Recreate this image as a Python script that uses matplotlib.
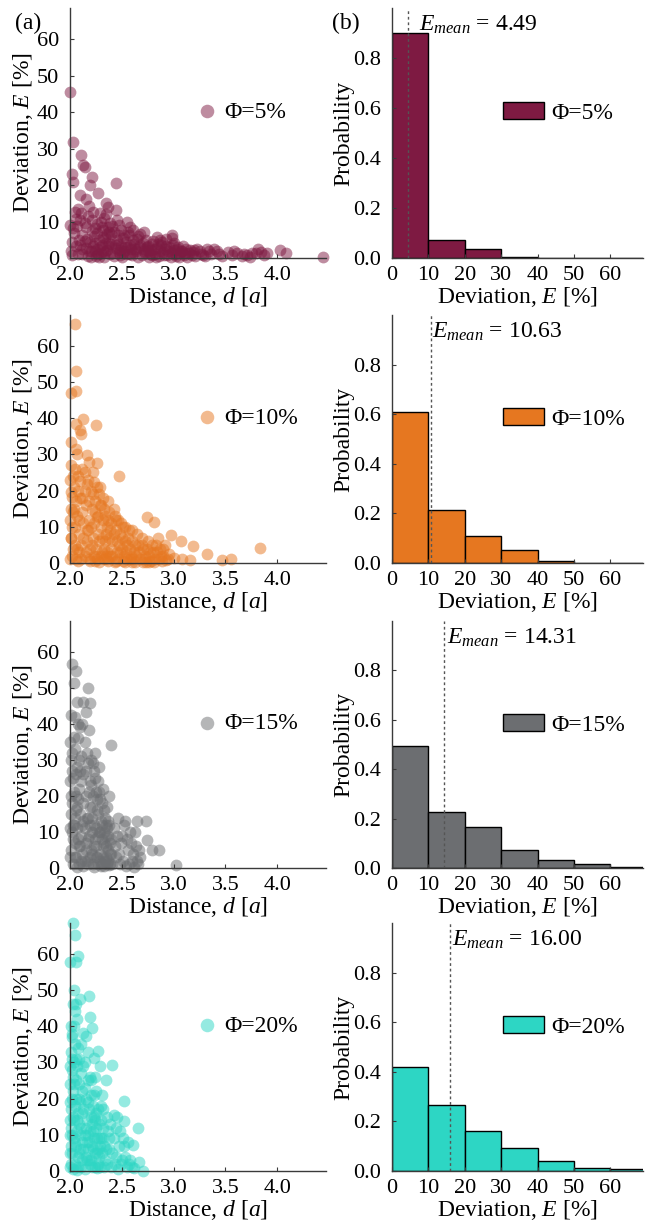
import matplotlib
matplotlib.use("Agg")
import matplotlib.pyplot as plt
import matplotlib.transforms as mtransforms

plt.rcParams["font.family"] = ["Liberation Serif", "DejaVu Serif"]
plt.rcParams["mathtext.fontset"] = "custom"
plt.rcParams["mathtext.rm"] = "Liberation Serif"
plt.rcParams["mathtext.it"] = "Liberation Serif:italic"
plt.rcParams["font.size"] = 17

# ---- data ----
labels = ["Φ=5%", "Φ=10%", "Φ=15%", "Φ=20%"]
colors = ["#7E1A42", "#E67720", "#6C6E71", "#2DD6C4"]
e_mean = [4.49, 10.63, 14.31, 16.00]

bin_left = [0, 10, 20, 30, 40, 50, 60]
prob_05 = [0.90, 0.073, 0.037, 0.003, 0.002, 0.0, 0.0]
prob_10 = [0.608, 0.212, 0.108, 0.054, 0.007, 0.002, 0.002]
prob_15 = [0.494, 0.225, 0.164, 0.071, 0.031, 0.015, 0.003]
prob_20 = [0.42, 0.267, 0.162, 0.092, 0.039, 0.012, 0.007]

# (distance d, deviation E) pairs, estimated by eye
pts_05 = [
    (2.00, 45.5), (2.03, 31.8), (2.02, 23.1), (2.03, 20.9), (2.11, 28.1), (2.13, 25.4),
    (2.14, 24.8), (2.21, 22.2), (2.19, 20.0), (2.44, 20.6), (2.10, 17.2), (2.15, 16.3),
    (2.27, 17.7), (2.35, 15.0), (2.37, 14.0), (2.29, 12.2), (2.05, 12.7), (2.11, 12.2),
    (2.10, 10.4), (2.00, 9.0), (2.03, 8.1), (2.15, 8.6), (2.21, 10.4), (2.44, 13.1),
    (2.45, 10.4), (2.55, 9.9), (2.37, 8.6), (2.32, 7.7), (2.61, 7.7), (2.68, 6.7),
    (2.71, 7.2), (2.84, 5.8), (2.98, 6.3), (2.98, 5.4), (2.33, 11.0), (2.26, 9.2),
    (2.40, 6.5), (2.49, 7.8), (2.06, 10.8), (2.17, 11.5),
    (2.01, 2.0), (2.02, 0.8), (2.06, 3.2), (2.08, 1.2), (2.10, 3.5), (2.12, 1.2),
    (2.15, 2.8), (2.17, 0.5), (2.19, 4.5), (2.20, 1.8), (2.22, 3.2), (2.23, 6.0),
    (2.25, 0.6), (2.26, 2.4), (2.28, 4.8), (2.30, 1.4), (2.31, 3.6), (2.33, 0.3),
    (2.34, 5.5), (2.36, 2.2), (2.38, 7.0), (2.39, 1.0), (2.40, 3.8), (2.42, 0.5),
    (2.44, 2.7), (2.45, 5.0), (2.47, 1.6), (2.49, 3.3), (2.50, 0.4), (2.52, 2.0),
    (2.54, 4.4), (2.55, 1.1), (2.57, 6.2), (2.59, 2.6), (2.60, 0.7), (2.62, 3.9),
    (2.64, 1.8), (2.65, 5.3), (2.67, 2.9), (2.69, 0.9), (2.70, 4.1), (2.72, 1.5),
    (2.74, 3.0), (2.76, 0.4), (2.78, 2.3), (2.80, 4.6), (2.82, 1.2), (2.84, 2.8),
    (2.86, 0.6), (2.88, 3.5), (2.90, 1.7), (2.92, 2.4), (2.94, 0.8), (2.96, 3.1),
    (2.98, 1.4), (3.00, 2.2), (3.02, 0.5), (3.04, 3.0), (3.06, 1.3), (3.08, 2.0),
    (3.10, 0.7), (3.12, 2.6), (3.15, 1.5), (3.18, 0.9), (3.20, 2.1), (3.23, 2.6),
    (3.26, 1.2), (3.30, 0.6), (3.34, 1.8), (3.39, 2.6), (3.44, 1.1), (3.52, 1.7),
    (3.56, 0.7), (3.61, 1.3), (3.66, 0.5), (3.71, 0.8), (3.76, 1.4), (3.81, 2.6),
    (3.84, 1.7), (3.90, 1.3), (4.03, 2.2), (4.08, 1.3), (4.44, 0.4),
    (2.27, 1.0), (2.35, 4.0), (2.48, 0.8), (2.58, 3.5), (2.66, 0.3), (2.75, 2.0),
    (2.16, 5.2), (2.18, 2.0), (2.21, 7.5), (2.24, 4.2), (2.26, 6.8), (2.29, 2.9),
    (2.31, 8.5), (2.32, 5.8), (2.34, 1.6), (2.36, 6.6), (2.38, 4.2), (2.41, 8.8),
    (2.43, 3.6), (2.46, 6.3), (2.48, 2.2), (2.51, 5.4), (2.53, 3.0), (2.56, 7.0),
    (2.58, 1.2), (2.61, 4.8), (2.63, 2.4), (2.66, 6.0), (2.68, 3.6), (2.71, 1.9),
    (2.73, 5.0), (2.75, 3.2), (2.77, 1.0), (2.79, 3.8), (2.81, 2.4), (2.83, 0.3),
    (2.85, 3.7), (2.87, 2.0), (2.89, 4.4), (2.91, 0.9), (2.93, 3.3), (2.95, 1.9),
    (2.97, 0.4), (2.99, 3.6), (3.01, 1.1), (3.03, 2.5), (3.05, 0.3), (3.07, 1.8),
    (3.09, 3.4), (3.11, 1.3), (3.13, 0.4), (3.16, 2.3), (3.19, 1.6), (3.21, 0.5),
    (3.25, 1.9), (3.28, 0.8), (3.32, 2.4), (3.36, 1.2), (3.42, 1.8), (3.47, 0.6),
    (3.58, 1.9), (3.68, 1.2), (3.74, 0.4), (3.79, 1.3), (3.87, 0.8), (2.22, 12.5),
    (2.24, 8.2), (2.30, 9.8), (2.35, 12.0), (2.39, 9.6), (2.42, 7.0), (2.47, 9.0),
    (2.52, 6.4), (2.58, 8.6), (2.02, 4.5), (2.04, 6.8), (2.07, 8.8), (2.09, 5.0),
    (2.12, 6.2), (2.14, 9.7), (2.18, 14.3), (2.08, 13.5), (2.12, 2.4), (2.14, 4.6),
    (2.20, 0.3), (2.24, 2.0), (2.28, 0.2), (2.32, 2.0), (2.37, 3.2), (2.41, 1.4),
    (2.46, 3.8), (2.51, 1.5), (2.56, 2.9), (2.61, 1.7), (2.71, 2.6), (2.79, 0.7),
    (2.87, 4.9), (2.93, 5.2), (3.00, 4.0),
]

pts_10 = [
    (2.05, 66.1), (2.06, 52.9), (2.06, 47.6), (2.01, 46.9), (2.13, 39.8), (2.10, 36.6),
    (2.11, 35.7), (2.25, 38.0), (2.01, 33.4), (2.06, 31.6), (2.16, 29.8), (2.01, 27.0),
    (2.05, 26.1), (2.26, 27.7), (2.47, 24.0), (2.10, 22.7), (2.16, 21.8), (2.23, 22.3),
    (2.29, 21.0), (2.01, 19.7), (2.02, 18.3), (2.37, 17.0), (2.26, 12.8), (2.44, 11.9),
    (2.53, 10.0), (2.74, 12.8), (2.81, 11.2), (2.01, 6.9), (2.97, 7.8), (3.07, 6.2),
    (3.19, 4.8), (3.32, 2.6), (3.47, 0.9), (3.55, 1.1), (3.83, 4.1), (3.16, 0.9),
    (3.08, 1.1),
    (2.04, 15), (2.08, 20), (2.12, 14), (2.14, 25), (2.18, 17), (2.20, 10), (2.22, 19),
    (2.24, 14), (2.27, 8), (2.30, 16), (2.32, 12), (2.34, 6), (2.36, 10), (2.38, 14),
    (2.40, 4), (2.42, 8), (2.45, 6), (2.48, 3), (2.50, 7), (2.52, 2), (2.55, 5),
    (2.58, 1), (2.60, 6), (2.62, 3), (2.65, 8), (2.68, 1), (2.70, 4), (2.72, 2),
    (2.75, 6), (2.78, 0.5), (2.80, 3), (2.83, 5), (2.86, 1), (2.88, 2), (2.90, 4),
    (2.93, 0.8), (2.96, 2.5), (3.00, 1.5),
    (2.02, 2), (2.05, 10), (2.07, 4), (2.09, 12), (2.11, 1), (2.13, 7), (2.15, 3),
    (2.17, 9), (2.19, 0.5), (2.21, 5), (2.23, 2), (2.25, 4), (2.28, 0.4), (2.31, 3),
    (2.33, 1), (2.35, 2), (2.37, 0.5), (2.39, 9), (2.41, 2), (2.43, 0.3), (2.46, 1),
    (2.49, 11), (2.51, 0.6), (2.54, 3), (2.57, 9), (2.59, 2), (2.63, 0.4), (2.66, 5),
    (2.69, 7), (2.73, 0.3), (2.77, 3), (2.82, 1), (2.85, 7), (2.89, 0.5), (2.92, 5),
    (2.95, 1),
    (2.01, 7), (2.03, 24), (2.07, 30), (2.12, 18), (2.18, 28), (2.22, 25), (2.28, 19),
    (2.33, 15), (2.43, 13), (2.06, 38.5), (2.00, 1), (2.08, 0.5), (2.16, 6), (2.26, 1),
    (2.02, 10), (2.03, 14), (2.04, 21), (2.05, 5), (2.06, 17), (2.07, 13), (2.08, 24),
    (2.09, 8), (2.10, 18), (2.11, 5), (2.12, 26), (2.13, 11), (2.14, 20), (2.15, 16),
    (2.16, 9), (2.17, 23), (2.18, 12), (2.19, 4), (2.20, 20), (2.21, 15), (2.22, 7),
    (2.23, 11), (2.24, 17), (2.25, 2), (2.26, 21), (2.27, 13), (2.28, 6), (2.29, 16),
    (2.30, 10), (2.31, 7), (2.32, 18), (2.33, 4), (2.34, 13), (2.35, 8), (2.36, 3),
    (2.37, 12), (2.38, 7), (2.39, 2), (2.40, 11), (2.41, 6), (2.42, 15), (2.44, 9),
    (2.45, 3), (2.46, 12), (2.47, 5), (2.48, 8), (2.50, 4), (2.51, 10), (2.53, 6),
    (2.54, 1), (2.56, 7), (2.58, 4), (2.60, 9), (2.61, 1), (2.63, 5), (2.64, 2),
    (2.67, 3), (2.69, 5), (2.71, 1), (2.74, 4), (2.76, 2), (2.79, 5), (2.81, 0.4),
    (2.84, 3), (2.87, 4), (2.90, 2), (2.03, 4), (2.06, 1), (2.09, 3), (2.14, 2),
    (2.18, 1), (2.24, 0.5), (2.30, 2), (2.36, 1), (2.44, 0.5), (2.53, 0.3), (2.60, 0.3),
    (2.70, 0.4), (2.76, 0.3), (2.00, 12), (2.00, 23), (2.01, 15),
]

pts_15 = [
    (2.02, 56.5), (2.06, 54.6), (2.04, 51.2), (2.17, 49.8), (2.07, 46.0), (2.13, 46.0),
    (2.19, 45.8), (2.15, 43.3), (2.01, 42.3), (2.10, 39.0), (2.18, 38.2), (2.40, 34.2),
    (2.04, 36.3), (2.65, 13.0), (2.73, 13.0), (2.74, 7.9), (2.79, 5.1), (2.86, 5.1),
    (3.02, 0.7),
    (2.01, 30), (2.03, 25), (2.05, 33), (2.07, 28), (2.09, 22), (2.11, 31), (2.13, 26),
    (2.15, 20), (2.17, 29), (2.19, 24), (2.21, 17), (2.23, 27), (2.25, 21), (2.27, 15),
    (2.29, 19), (2.31, 12), (2.33, 16), (2.35, 9), (2.37, 13), (2.39, 7),
    (2.02, 18), (2.04, 12), (2.06, 20), (2.08, 8), (2.10, 15), (2.12, 4), (2.14, 11),
    (2.16, 2), (2.18, 9), (2.20, 5), (2.22, 1), (2.24, 8), (2.26, 3), (2.28, 10),
    (2.30, 0.5), (2.32, 6), (2.34, 2), (2.36, 11), (2.38, 0.8), (2.40, 4),
    (2.01, 5), (2.03, 1), (2.05, 3), (2.07, 0.4), (2.09, 6), (2.11, 2), (2.13, 0.6),
    (2.15, 7), (2.17, 14), (2.19, 3), (2.21, 10), (2.23, 0.3), (2.25, 6), (2.27, 1),
    (2.29, 4), (2.31, 8), (2.33, 0.5), (2.35, 3), (2.37, 5), (2.39, 1),
    (2.42, 11), (2.44, 3), (2.46, 14), (2.48, 1), (2.50, 9), (2.52, 12), (2.54, 0.5),
    (2.56, 5), (2.58, 10), (2.60, 2), (2.62, 0.4), (2.64, 6), (2.66, 1), (2.68, 3),
    (2.02, 10), (2.06, 16), (2.08, 36), (2.12, 40), (2.14, 35), (2.16, 32), (2.20, 23),
    (2.24, 32), (2.28, 28), (2.32, 22), (2.36, 17), (2.38, 20), (2.00, 24), (2.00, 3),
    (2.01, 15), (2.02, 27), (2.03, 8), (2.04, 21), (2.05, 14), (2.06, 3), (2.06, 26),
    (2.07, 11), (2.08, 19), (2.09, 30), (2.10, 6), (2.11, 24), (2.12, 12), (2.13, 18),
    (2.14, 2), (2.15, 27), (2.16, 14), (2.17, 8), (2.18, 21), (2.19, 12), (2.20, 30),
    (2.21, 4), (2.22, 20), (2.23, 12), (2.24, 25), (2.25, 3), (2.26, 16), (2.27, 9),
    (2.28, 21), (2.29, 2), (2.30, 13), (2.31, 18), (2.32, 3), (2.33, 10), (2.34, 14),
    (2.35, 6), (2.36, 1), (2.37, 9), (2.38, 12), (2.39, 4), (2.40, 8), (2.41, 1),
    (2.43, 6), (2.45, 9), (2.47, 4), (2.49, 7), (2.51, 2), (2.53, 13), (2.55, 8),
    (2.57, 1), (2.59, 7), (2.61, 4), (2.63, 10), (2.65, 2), (2.67, 5), (2.01, 20),
    (2.03, 12), (2.05, 7), (2.07, 17), (2.09, 1), (2.11, 9), (2.13, 13), (2.15, 5),
    (2.17, 1), (2.19, 17), (2.21, 14), (2.23, 6), (2.25, 11), (2.27, 24), (2.29, 10),
    (2.31, 1), (2.33, 7), (2.35, 12), (2.37, 2), (2.00, 11), (2.00, 35), (2.02, 32),
    (2.10, 27), (2.22, 29), (2.26, 19), (2.05, 42), (2.08, 40),
]

pts_20 = [
    (2.03, 68.5), (2.05, 65.1), (2.08, 59.3), (2.06, 57.7), (2.00, 57.7), (2.18, 48.4),
    (2.10, 47.5), (2.03, 46.1), (2.05, 44.3), (2.19, 42.4), (2.21, 39.6), (2.15, 37.3),
    (2.02, 37.8), (2.27, 33.1), (2.23, 31.3), (2.41, 29.4), (2.35, 25.0), (2.31, 21.1),
    (2.52, 19.4), (2.42, 15.6), (2.52, 13.7), (2.66, 11.9), (2.61, 7.2), (2.67, 2.4),
    (2.70, 0.0),
    (2.01, 33), (2.02, 28), (2.03, 22), (2.04, 30), (2.05, 18), (2.06, 25), (2.07, 14),
    (2.08, 34), (2.09, 20), (2.10, 10), (2.11, 27), (2.12, 16), (2.13, 6), (2.14, 23),
    (2.15, 12), (2.16, 3), (2.17, 19), (2.18, 8), (2.19, 26), (2.20, 15), (2.21, 1),
    (2.22, 11), (2.23, 21), (2.24, 5), (2.25, 16), (2.26, 9), (2.27, 2), (2.28, 13),
    (2.29, 7), (2.30, 18),
    (2.01, 12), (2.02, 5), (2.03, 0.5), (2.04, 9), (2.05, 2), (2.06, 7), (2.07, 0.3),
    (2.08, 4), (2.09, 13), (2.11, 1), (2.12, 8), (2.14, 0.5), (2.15, 4), (2.17, 10),
    (2.19, 2), (2.22, 6), (2.24, 14), (2.26, 0.8), (2.28, 4), (2.30, 9), (2.32, 12),
    (2.34, 3), (2.36, 15), (2.38, 6), (2.40, 1), (2.42, 9), (2.44, 4), (2.46, 0.5),
    (2.48, 11), (2.50, 3), (2.52, 7), (2.55, 1), (2.58, 3), (2.62, 0.8), (2.33, 7),
    (2.37, 11), (2.45, 15), (2.02, 20), (2.04, 40), (2.07, 42), (2.09, 31), (2.13, 29),
    (2.17, 33), (2.20, 25), (2.25, 22), (2.29, 29), (2.32, 17), (2.00, 24), (2.00, 14),
    (2.00, 5), (2.01, 2),
    (2.01, 17), (2.02, 10), (2.02, 31), (2.03, 15), (2.04, 24), (2.05, 8), (2.05, 35),
    (2.06, 20), (2.07, 11), (2.07, 29), (2.08, 16), (2.09, 5), (2.09, 24), (2.10, 19),
    (2.11, 12), (2.11, 35), (2.12, 3), (2.12, 22), (2.13, 17), (2.14, 10), (2.14, 30),
    (2.15, 20), (2.16, 14), (2.17, 6), (2.17, 25), (2.18, 17), (2.19, 11), (2.20, 3),
    (2.20, 21), (2.21, 13), (2.22, 18), (2.23, 9), (2.24, 1), (2.24, 26), (2.25, 12),
    (2.26, 5), (2.27, 17), (2.28, 9), (2.29, 1), (2.30, 14), (2.31, 5), (2.32, 9),
    (2.33, 1), (2.35, 6), (2.36, 2), (2.38, 9), (2.39, 13), (2.41, 5), (2.43, 2),
    (2.44, 12), (2.47, 7), (2.49, 2), (2.51, 9), (2.53, 4), (2.56, 8), (2.57, 2),
    (2.60, 1), (2.01, 7), (2.02, 37), (2.03, 26), (2.04, 14), (2.06, 31), (2.08, 1),
    (2.10, 6), (2.13, 38), (2.16, 8), (2.18, 3), (2.21, 7), (2.23, 15), (2.27, 6),
    (2.00, 10), (2.00, 19), (2.00, 29), (2.00, 1), (2.01, 40), (2.04, 50), (2.06, 46),
]

scatter_sets = [pts_05, pts_10, pts_15, pts_20]
prob_sets = [prob_05, prob_10, prob_15, prob_20]

# ---- layout (pixels of the reference) ----
W, H = 649, 1223
row_px = [(8, 258), (315, 563), (621, 868), (923, 1171)]
left_px = (70, 326)
right_px = (392, 643)
text_x = [7.4, 11.0, 15.0, 16.5]

spine_col = "#3a3a3a"


def style(ax):
    for s in ["top", "right"]:
        ax.spines[s].set_visible(False)
    for s in ["left", "bottom"]:
        ax.spines[s].set_color(spine_col)
        ax.spines[s].set_linewidth(1.0)
    ax.tick_params(direction="in", length=3, width=0.8, color=spine_col,
                   labelsize=16)
    ax.tick_params(axis="y", pad=8)
    ax.tick_params(axis="x", pad=6)


fig = plt.figure(figsize=(W / 100, H / 100), dpi=100)

for i in range(4):
    top, bot = row_px[i]
    y0 = 1 - bot / H
    h = (bot - top) / H

    # scatter panel
    ax = fig.add_axes([left_px[0] / W, y0, (left_px[1] - left_px[0]) / W, h])
    d = [p[0] for p in scatter_sets[i]]
    e = [p[1] for p in scatter_sets[i]]
    ax.scatter(d, e, s=72, color=colors[i], alpha=0.5, linewidths=0,
               clip_on=False, label=labels[i])
    ax.set_xlim(2.0, 4.47)
    ax.set_ylim(0, 68.5)
    ax.set_xticks([2.0, 2.5, 3.0, 3.5, 4.0])
    ax.set_yticks([0, 10, 20, 30, 40, 50, 60])
    ax.set_xticklabels(["2.0", "2.5", "3.0", "3.5", "4.0"])
    style(ax)
    ax.set_xlabel(r"Distance, $d$ [$a$]", fontsize=17, labelpad=0)
    ax.set_ylabel(r"Deviation, $E$ [%]", fontsize=17, labelpad=1)
    ax.legend(loc="center left", bbox_to_anchor=(0.50, 0.585), frameon=False,
              borderpad=0, borderaxespad=0, handlelength=0.8, handletextpad=0.3,
              markerscale=1.15, fontsize=17)

    # histogram panel
    ax2 = fig.add_axes([right_px[0] / W, y0, (right_px[1] - right_px[0]) / W, h])
    ax2.bar(bin_left, prob_sets[i], width=10, align="edge", color=colors[i],
            edgecolor="black", linewidth=1.0, label=labels[i])
    ax2.axvline(e_mean[i], color="#555555", linestyle=(0, (2, 2)), linewidth=1.0)
    ax2.set_xlim(0, 69)
    ax2.set_ylim(0, 1.0)
    ax2.set_xticks([0, 10, 20, 30, 40, 50, 60])
    ax2.set_yticks([0.0, 0.2, 0.4, 0.6, 0.8])
    ax2.set_yticklabels(["0.0", "0.2", "0.4", "0.6", "0.8"])
    style(ax2)
    ax2.set_xlabel(r"Deviation, $E$ [%]", fontsize=17, labelpad=0)
    ax2.set_ylabel("Probability", fontsize=17, labelpad=-1)
    ax2.legend(loc="center left", bbox_to_anchor=(0.442, 0.58), frameon=False,
               borderpad=0, borderaxespad=0, handlelength=1.75, handleheight=0.7,
               handletextpad=0.3, fontsize=17)
    trans = mtransforms.blended_transform_factory(ax2.transData, ax2.transAxes)
    ax2.text(text_x[i], 0.91, r"$E_{mean}$" + " = %.2f" % e_mean[i],
             transform=trans, fontsize=17, va="baseline", ha="left")

fig.text(15 / W, 1 - 29 / H, "(a)", fontsize=17, va="baseline")
fig.text(332 / W, 1 - 29 / H, "(b)", fontsize=17, va="baseline")

fig.savefig("out.png", dpi=100)
